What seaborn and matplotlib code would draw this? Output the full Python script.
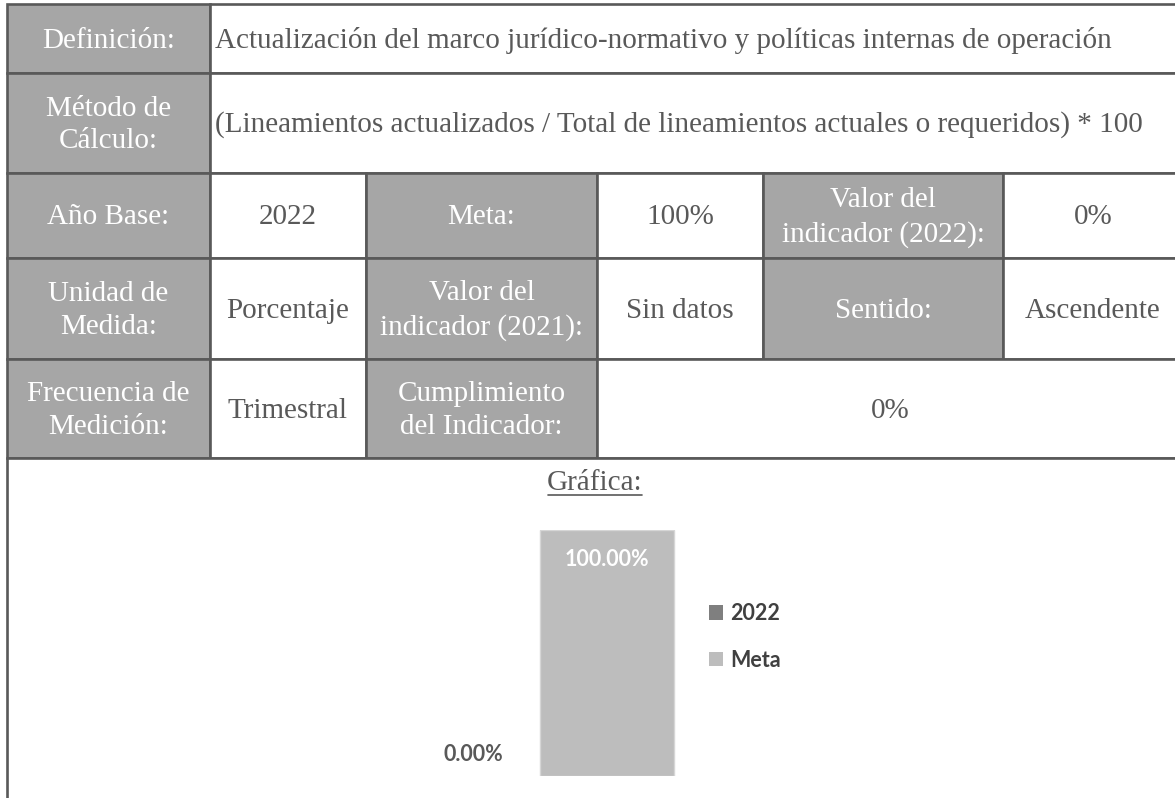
import matplotlib
matplotlib.use("Agg")
import matplotlib.pyplot as plt
from matplotlib.patches import Rectangle
import seaborn as sns
import pandas as pd

# ---------------- data ----------------
definicion = "Actualización del marco jurídico-normativo y políticas internas de operación"
metodo = "(Lineamientos actualizados / Total de lineamientos actuales o requeridos) * 100"
anio_base = "2022"
meta_txt = "100%"
valor_2022_txt = "0%"
unidad = "Porcentaje"
valor_2021_txt = "Sin datos"
sentido = "Ascendente"
frecuencia = "Trimestral"
cumplimiento = "0%"

series = ["2022", "Meta"]
values = [0.0, 100.0]
value_labels = ["0.00%", "100.00%"]
series_colors = ["#7f7f7f", "#bdbdbd"]

# ---------------- layout ----------------
W, H = 1175, 798
sns.set_theme(style="white")
plt.rcParams["font.family"] = ["Liberation Serif", "DejaVu Serif"]

fig = plt.figure(figsize=(W / 100, H / 100), dpi=100)
tab = fig.add_axes([0, 0, 1, 1])
tab.set_xlim(0, W)
tab.set_ylim(H, 0)
tab.axis("off")

rows = [4, 73, 173, 258, 359, 458, 802]
cols = [7, 210, 366, 597, 763, 1003, 1183]
GRAY = "#a6a6a6"
LINE = "#595959"
TXT_DARK = "#595959"
FS = 21

cells = [
    # row, col_start, col_end, text, shaded, align
    (0, 0, 1, "Definición:", True, "center"),
    (0, 1, 6, definicion, False, "left"),
    (1, 0, 1, "Método de\nCálculo:", True, "center"),
    (1, 1, 6, metodo, False, "left"),
    (2, 0, 1, "Año Base:", True, "center"),
    (2, 1, 2, anio_base, False, "center"),
    (2, 2, 3, "Meta:", True, "center"),
    (2, 3, 4, meta_txt, False, "center"),
    (2, 4, 5, "Valor del\nindicador (2022):", True, "center"),
    (2, 5, 6, valor_2022_txt, False, "center"),
    (3, 0, 1, "Unidad de\nMedida:", True, "center"),
    (3, 1, 2, unidad, False, "center"),
    (3, 2, 3, "Valor del\nindicador (2021):", True, "center"),
    (3, 3, 4, valor_2021_txt, False, "center"),
    (3, 4, 5, "Sentido:", True, "center"),
    (3, 5, 6, sentido, False, "center"),
    (4, 0, 1, "Frecuencia de\nMedición:", True, "center"),
    (4, 1, 2, frecuencia, False, "center"),
    (4, 2, 3, "Cumplimiento\ndel Indicador:", True, "center"),
    (4, 3, 6, cumplimiento, False, "center"),
    (5, 0, 6, "", False, "center"),
]

for r, c0, c1, text, shaded, align in cells:
    x0, x1 = cols[c0], cols[c1]
    y0, y1 = rows[r], rows[r + 1]
    tab.add_patch(Rectangle((x0, y0), x1 - x0, y1 - y0,
                            facecolor=GRAY if shaded else "white",
                            edgecolor=LINE, linewidth=1.9, zorder=1))
    if text:
        tx = (x0 + x1) / 2 if align == "center" else x0 + 5
        tab.text(tx, (y0 + y1) / 2 + 2, text, ha=align, va="center",
                 fontsize=FS, color="white" if shaded else TXT_DARK,
                 linespacing=1.35, zorder=3)

# title "Gráfica:" underlined
gt = tab.text((cols[0] + cols[-1]) / 2, 483, "Gráfica:", ha="center", va="center",
              fontsize=FS, color=TXT_DARK, zorder=3)
fig.canvas.draw()
bb = gt.get_window_extent(renderer=fig.canvas.get_renderer())
inv = tab.transData.inverted()
(ux0, uy0), (ux1, uy1) = inv.transform([[bb.x0, bb.y0], [bb.x1, bb.y1]])
tab.plot([ux0 + 1, ux1 - 1], [495, 495], color=TXT_DARK, lw=1.2, zorder=3)

# ---------------- chart ----------------
base_y, top_y = 776, 530
cx, bar_px = 540, 134
ax = fig.add_axes([(cx - bar_px * 1.25) / W, (H - base_y) / H,
                   bar_px * 2.5 / W, (base_y - top_y) / H])
df = pd.DataFrame({"cat": ["" for _ in series], "serie": series, "valor": values})
sns.barplot(data=df, x="cat", y="valor", hue="serie", hue_order=series,
            palette=series_colors, saturation=1, width=0.8, ax=ax,
            legend=True)
ax.set_xlim(-0.5, 0.5)
ax.set_ylim(0, 100)
ax.axis("off")
ax.patch.set_alpha(0)

conts = ax.containers
for p in conts[0]:
    p.set_edgecolor("none")
for p in conts[1]:
    p.set_edgecolor("#d6d6d6")
    p.set_linewidth(1.0)

LAB = dict(fontsize=15.5, fontweight="bold", fontfamily=["Lato", "DejaVu Sans"])
ax.bar_label(conts[0], labels=[value_labels[0]], padding=8,
             color="#595959", **LAB)
ax.bar_label(conts[1], labels=[value_labels[1]], padding=-28.5,
             color="white", **LAB)

handles, labels = ax.get_legend_handles_labels()
leg = ax.legend(handles, labels, loc="upper left",
                bbox_to_anchor=(709 / W, 1 - 603 / H), bbox_transform=fig.transFigure,
                frameon=False, borderpad=0, borderaxespad=0,
                handlelength=0.65, handleheight=0.65, handletextpad=0.35,
                labelspacing=1.2, prop=dict(family=["Lato", "DejaVu Sans"],
                                            weight="bold", size=15.5))
for t in leg.get_texts():
    t.set_color("#404040")
for h in leg.legend_handles:
    h.set_edgecolor("none")

fig.savefig("out.png", dpi=100)
